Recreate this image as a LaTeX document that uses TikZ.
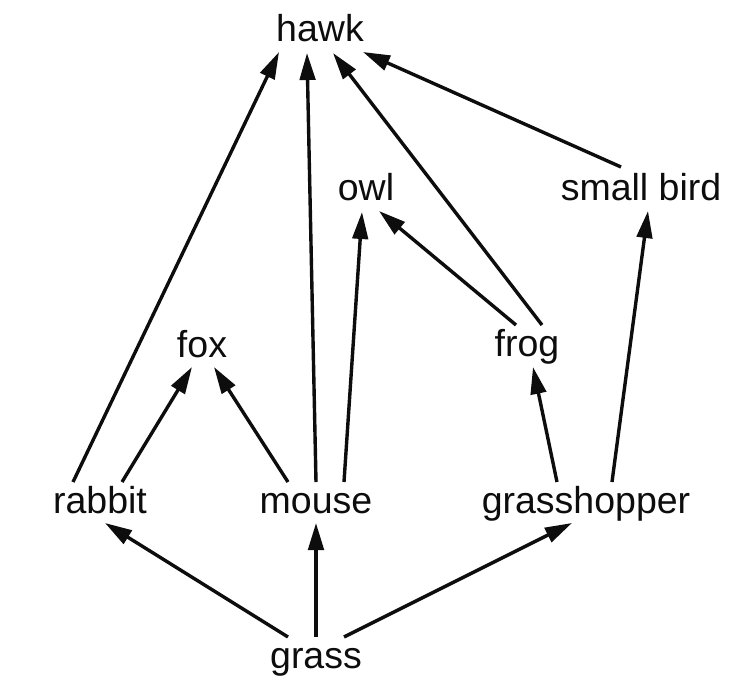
\documentclass[tikz,border=0pt]{standalone}
\usepackage{fontspec}
\setmainfont{Liberation Sans}
\usetikzlibrary{arrows.meta}
\begin{document}
\begin{tikzpicture}[x=1pt,y=-1pt,
  lbl/.style={inner sep=0pt,anchor=base,text=black!95,font=\fontsize{37.5}{45}\selectfont},
  arr/.style={line width=3.4pt,draw=black!95,-{Triangle[length=27pt,width=15.5pt]}}]
\useasboundingbox (0,0) rectangle (737,687);
\node[lbl] (hawk) at (320,42) {hawk};
\node[lbl] (owl) at (366,201) {owl};
\node[lbl] (smallbird) at (641,201) {small bird};
\node[lbl] (fox) at (202,357) {fox};
\node[lbl] (frog) at (527,356) {frog};
\node[lbl] (rabbit) at (100,513) {rabbit};
\node[lbl] (mouse) at (316,513) {mouse};
\node[lbl] (grasshopper) at (586,513) {grasshopper};
\node[lbl] (grass) at (316,668) {grass};
\draw[arr] ([shift={(-27,-31)}]rabbit.base) -- ([shift={(-41,10)}]hawk.base);
\draw[arr] ([shift={(0,-31)}]mouse.base) -- ([shift={(-13,11)}]hawk.base);
\draw[arr] ([shift={(15,-31)}]frog.base) -- ([shift={(13,11)}]hawk.base);
\draw[arr] ([shift={(-20,-34)}]smallbird.base) -- ([shift={(43,10)}]hawk.base);
\draw[arr] ([shift={(28,-31)}]mouse.base) -- ([shift={(-4,11)}]owl.base);
\draw[arr] ([shift={(-11,-31)}]frog.base) -- ([shift={(13,10)}]owl.base);
\draw[arr] ([shift={(26,-31)}]grasshopper.base) -- ([shift={(7,10)}]smallbird.base);
\draw[arr] ([shift={(-29,-31)}]grasshopper.base) -- ([shift={(6,11)}]frog.base);
\draw[arr] ([shift={(22,-31)}]rabbit.base) -- ([shift={(-10,10)}]fox.base);
\draw[arr] ([shift={(-28,-31)}]mouse.base) -- ([shift={(12,10)}]fox.base);
\draw[arr] ([shift={(-28,-31)}]grass.base) -- ([shift={(5,10)}]rabbit.base);
\draw[arr] ([shift={(0,-31)}]grass.base) -- ([shift={(0,10)}]mouse.base);
\draw[arr] ([shift={(28,-31)}]grass.base) -- ([shift={(-14,10)}]grasshopper.base);
\end{tikzpicture}
\end{document}
